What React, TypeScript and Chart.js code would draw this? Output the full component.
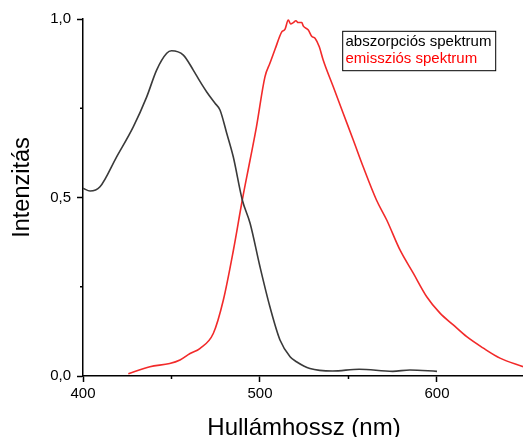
import React, { useEffect, useRef } from 'react';
import { Chart, registerables } from 'chart.js';

Chart.register(...registerables);

// ---- data ----
const absWavelength = [400, 404, 409.6, 419, 428.4, 436, 441.6, 447.3, 450, 456.7, 462.3, 466, 470, 474.6, 477.4, 481.2, 484.9, 490, 494.4, 500, 505.6, 511.3, 517, 520.6, 528.2, 541, 556, 575, 584.7, 600];
const absIntensity = [0.526, 0.518, 0.53, 0.614, 0.698, 0.782, 0.857, 0.904, 0.911, 0.899, 0.857, 0.826, 0.795, 0.764, 0.745, 0.68, 0.614, 0.493, 0.428, 0.306, 0.194, 0.101, 0.054, 0.04, 0.021, 0.014, 0.019, 0.013, 0.017, 0.013];

const emWavelength = [425.6, 437.8, 449, 454.8, 460.5, 466, 473.6, 479.3, 485, 490, 494.4, 498, 502.8, 505.6, 508.5, 512.3, 514.1, 516, 517.3, 518.8, 520.3, 521.6, 523.6, 524.5, 527.3, 529.2, 531.1, 533.5, 535.7, 541.4, 547, 552.7, 558.3, 565.8, 571.6, 579.1, 586.6, 594.2, 601.7, 609.2, 616.8, 626.2, 635.6, 648.6];
const emIntensity = [0.006, 0.026, 0.035, 0.045, 0.063, 0.077, 0.119, 0.213, 0.353, 0.493, 0.605, 0.698, 0.838, 0.876, 0.915, 0.964, 0.971, 0.997, 0.986, 0.99, 0.995, 0.99, 0.99, 0.98, 0.969, 0.952, 0.946, 0.922, 0.885, 0.81, 0.736, 0.661, 0.586, 0.493, 0.437, 0.353, 0.288, 0.222, 0.176, 0.143, 0.11, 0.078, 0.05, 0.026];

const seriesLabels = ['abszorpciós spektrum', 'emissziós spektrum'];
const xTitle = 'Hullámhossz (nm)';
const yTitle = 'Intenzitás';

const xMin = 400;
const xMax = 648.6;
const yMin = 0;
const yMax = 1;
const xMajorTicks = [400, 500, 600];
const xMinorTicks = [450, 550];
const yMajorTicks = [0, 0.5, 1];
const yMinorTicks = [0.25, 0.75];

const FONT = '"Liberation Sans", Arial, sans-serif';
const ABS_COLOR = '#3a3a3a';
const EM_COLOR = '#f22a2a';

const overlayPlugin = {
  id: 'overlay',
  afterDraw(chart: any) {
    const { ctx, chartArea: ca, scales } = chart;
    const xs = scales.x;
    const ys = scales.y;
    ctx.save();
    // minor ticks
    ctx.strokeStyle = '#000';
    ctx.lineWidth = 1.5;
    xMinorTicks.forEach((v) => {
      const px = xs.getPixelForValue(v);
      ctx.beginPath();
      ctx.moveTo(px, ca.bottom);
      ctx.lineTo(px, ca.bottom + 3);
      ctx.stroke();
    });
    yMinorTicks.forEach((v) => {
      const py = ys.getPixelForValue(v);
      ctx.beginPath();
      ctx.moveTo(ca.left - 3, py);
      ctx.lineTo(ca.left, py);
      ctx.stroke();
    });

    // axis titles
    ctx.fillStyle = '#000';
    ctx.textBaseline = 'alphabetic';
    ctx.textAlign = 'center';
    ctx.font = `24px ${FONT}`;
    ctx.fillText(xTitle, (ca.left + ca.right) / 2 + 1, ca.bottom + 58.5);

    ctx.save();
    ctx.translate(ca.left - 53.7, ca.top + 168.5);
    ctx.rotate(-Math.PI / 2);
    ctx.font = `23.5px ${FONT}`;
    ctx.fillText(yTitle, 0, 0);
    ctx.restore();

    // legend
    const bx = ca.right - 180.3;
    const by = ca.top + 12.3;
    ctx.fillStyle = '#fff';
    ctx.fillRect(bx, by, 153, 39.4);
    ctx.strokeStyle = '#000';
    ctx.lineWidth = 1;
    ctx.strokeRect(bx, by, 153, 39.4);
    ctx.font = `15px ${FONT}`;
    ctx.textAlign = 'left';
    chart.data.datasets.forEach((ds: any, i: number) => {
      ctx.fillStyle = i === 0 ? '#000' : '#ff0000';
      ctx.fillText(ds.label, bx + 2.8, by + 14.2 + i * 17.5);
    });
    ctx.restore();
  },
};

export default function App() {
  const canvasRef = useRef<HTMLCanvasElement | null>(null);

  useEffect(() => {
    const canvas = canvasRef.current;
    if (!canvas) return;
    const absData = absWavelength.map((x, i) => ({ x, y: absIntensity[i] }));
    const emData = emWavelength.map((x, i) => ({ x, y: emIntensity[i] }));

    const chart = new Chart(canvas, {
      type: 'line',
      data: {
        datasets: [
          {
            label: seriesLabels[0],
            data: absData,
            borderColor: ABS_COLOR,
            borderWidth: 1.6,
            pointRadius: 0,
            cubicInterpolationMode: 'monotone',
            fill: false,
          },
          {
            label: seriesLabels[1],
            data: emData,
            borderColor: EM_COLOR,
            borderWidth: 1.6,
            pointRadius: 0,
            cubicInterpolationMode: 'monotone',
            fill: false,
          },
        ],
      },
      options: {
        responsive: false,
        animation: false,
        layout: { padding: { top: 19, right: 0, bottom: 0, left: 0 } },
        plugins: {
          legend: { display: false },
          tooltip: { enabled: false },
          title: { display: false },
        },
        scales: {
          x: {
            type: 'linear',
            min: xMin,
            max: xMax,
            afterBuildTicks: (axis: any) => {
              axis.ticks = [...xMajorTicks, ...xMinorTicks].sort((a, b) => a - b).map((v) => ({ value: v }));
            },
            afterFit: (axis: any) => {
              axis.height = 61;
            },
            border: { display: true, color: '#000', width: 1.5 },
            grid: {
              display: true,
              drawOnChartArea: false,
              drawTicks: true,
              tickLength: 6,
              tickWidth: 1.5,
              tickColor: (c: any) => (xMajorTicks.includes(c.tick?.value) ? '#000' : 'rgba(0,0,0,0)'),
            },
            ticks: {
              color: '#000',
              padding: 3,
              maxRotation: 0,
              font: { family: FONT, size: 15 },
              callback: (v: any) => (xMajorTicks.includes(Number(v)) ? String(v) : ''),
            },
          },
          y: {
            type: 'linear',
            min: yMin,
            max: yMax,
            afterBuildTicks: (axis: any) => {
              axis.ticks = [...yMajorTicks, ...yMinorTicks].sort((a, b) => a - b).map((v) => ({ value: v }));
            },
            afterFit: (axis: any) => {
              axis.width = 83;
            },
            border: { display: true, color: '#000', width: 1.5 },
            grid: {
              display: true,
              drawOnChartArea: false,
              drawTicks: true,
              tickLength: 6,
              tickWidth: 1.5,
              tickColor: (c: any) => (yMajorTicks.includes(c.tick?.value) ? '#000' : 'rgba(0,0,0,0)'),
            },
            ticks: {
              color: '#000',
              padding: 6,
              font: { family: FONT, size: 15 },
              callback: (v: any) => (yMajorTicks.includes(Number(v)) ? Number(v).toFixed(1).replace('.', ',') : ''),
            },
          },
        },
      },
      plugins: [overlayPlugin],
    } as any);

    return () => chart.destroy();
  }, []);

  return (
    <div style={{ position: 'fixed', left: 0, top: 0, width: 523, height: 437, background: '#fff' }}>
      <canvas ref={canvasRef} width={523} height={437} style={{ display: 'block', width: 523, height: 437 }} />
    </div>
  );
}
